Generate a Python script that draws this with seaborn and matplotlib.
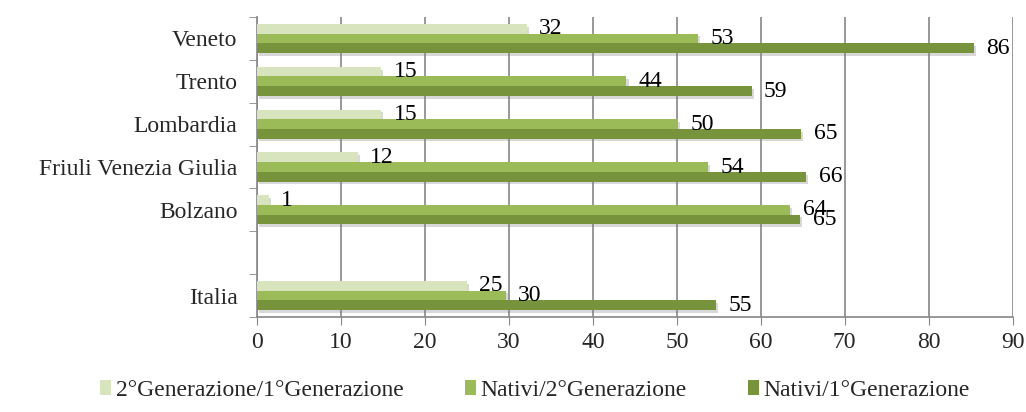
import numpy as np
import pandas as pd
import seaborn as sns
import matplotlib.pyplot as plt
import matplotlib.patheffects as pe

# dati
regioni = ["Veneto", "Trento", "Lombardia", "Friuli Venezia Giulia", "Bolzano", " ", "Italia"]
serie = ["2°Generazione/1°Generazione", "Nativi/2°Generazione", "Nativi/1°Generazione"]
gen2_gen1 = [32.1, 14.8, 14.8, 12.0, 1.4, None, 25.0]
nativi_gen2 = [52.5, 44.0, 50.1, 53.7, 63.5, None, 29.6]
nativi_gen1 = [85.4, 58.9, 64.8, 65.4, 64.7, None, 54.7]
etich_gen2_gen1 = [32, 15, 15, 12, 1, None, 25]
etich_nativi_gen2 = [53, 44, 50, 54, 64, None, 30]
etich_nativi_gen1 = [86, 59, 65, 66, 65, None, 55]
colori = ["#D7E4BD", "#9BBB59", "#77933C"]

rows = []
for s, vals in zip(serie, [gen2_gen1, nativi_gen2, nativi_gen1]):
    for r, v in zip(regioni, vals):
        if v is not None:
            rows.append({"regione": r, "serie": s, "valore": v})
df = pd.DataFrame(rows)

sns.set_style("white")
plt.rcParams['font.family'] = ['Liberation Serif', 'DejaVu Serif']
fs = 17

fig = plt.figure(figsize=(10.26, 4.12), dpi=100)
ax = fig.add_axes([0.2505, 0.2306, 0.7365, 0.7281])

sns.barplot(data=df, y="regione", x="valore", hue="serie", order=regioni,
            hue_order=serie, palette=colori, orient="h", width=0.68,
            saturation=1, errorbar=None, linewidth=0, ax=ax, zorder=3)

ombra = [pe.SimplePatchShadow(offset=(1.5, -2), shadow_rgbFace="#808080", alpha=0.3), pe.Normal()]
for cont, lab in zip(ax.containers, [etich_gen2_gen1, etich_nativi_gen2, etich_nativi_gen1]):
    for p in cont.patches:
        p.set_path_effects(ombra)
    lab = [str(l) for l in lab if l is not None]
    ax.bar_label(cont, labels=lab, padding=9, fontsize=fs, color="black")

ax.set_xlim(0, 90)
ax.set_xticks(np.arange(0, 91, 10))
ax.set_ylim(6.5, -0.5)
ax.set_yticks(np.arange(-0.5, 7, 1), minor=True)
ax.xaxis.grid(True, color="#868686", linewidth=1.2, zorder=0)
ax.set_xlabel("")
ax.set_ylabel("")
ax.tick_params(axis="x", which="major", labelsize=fs, length=6, color="#868686",
               direction="out", bottom=True, pad=5)
ax.tick_params(axis="y", which="major", labelsize=fs, length=0, pad=14)
ax.tick_params(axis="y", which="minor", length=6, color="#868686", direction="out", left=True)
for side in ["top", "right"]:
    ax.spines[side].set_visible(False)
for side in ["left", "bottom"]:
    ax.spines[side].set_color("#868686")
    ax.spines[side].set_linewidth(1.2)

ax.legend(loc="center", bbox_to_anchor=(0.368, -0.245), ncol=3, frameon=False,
          fontsize=fs, handlelength=0.45, handleheight=0.6, handletextpad=0.2,
          columnspacing=2.6)

fig.savefig("out.png", dpi=100)
